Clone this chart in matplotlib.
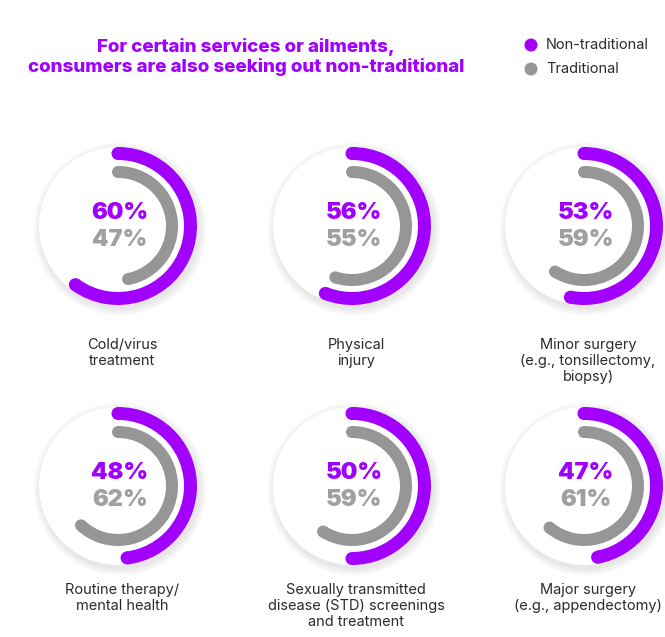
import numpy as np
import matplotlib
matplotlib.use('Agg')
from matplotlib import pyplot as plt
from matplotlib.patches import Wedge, Circle

# survey shares per service (percent)
categories = ['Cold/virus\ntreatment', 'Physical\ninjury',
              'Minor surgery\n(e.g., tonsillectomy,\nbiopsy)',
              'Routine therapy/\nmental health',
              'Sexually transmitted\ndisease (STD) screenings\nand treatment',
              'Major surgery\n(e.g., appendectomy)']
non_traditional = [60, 56, 53, 48, 50, 47]
traditional = [47, 55, 59, 62, 59, 61]

title = 'For certain services or ailments,\nconsumers are also seeking out non-traditional'
legend_labels = ['Non-traditional', 'Traditional']

PURPLE = '#a100ff'
GRAY = '#969696'
TEXT_GRAY = '#a0a0a0'

W, H = 665, 637
fig = plt.figure(figsize=(W / 100, H / 100), dpi=100)
ax = fig.add_axes([0, 0, 1, 1])
ax.set_xlim(0, W)
ax.set_ylim(H, 0)
ax.set_aspect('equal')
ax.axis('off')

# grid of donut centres in pixel space
xs = [118, 352, 584]
ys = [226, 486]
label_top = [338, 583]
R = 79
outer = (66, 79)
inner = (48, 60)


def arc(cx, cy, r0, r1, pct, color):
    # clockwise from 12 o'clock (y axis points down)
    span = 360 * pct / 100
    t1, t2 = -90, -90 + span
    ax.add_patch(Wedge((cx, cy), r1, t1, t2, width=r1 - r0, color=color, lw=0, zorder=3))
    rm = (r0 + r1) / 2
    for t in (t1, t2):
        a = np.deg2rad(t)
        ax.add_patch(Circle((cx + rm * np.cos(a), cy + rm * np.sin(a)), (r1 - r0) / 2,
                            color=color, lw=0, zorder=3))


for i, lab in enumerate(categories):
    cx = xs[i % 3]
    cy = ys[i // 3]
    # soft drop shadow
    for k in range(8):
        ax.add_patch(Circle((cx + 2, cy + 3), R + 1 + k, color='black', alpha=0.012, lw=0, zorder=1))
    ax.add_patch(Circle((cx, cy), R, color='white', lw=0, zorder=2))
    arc(cx, cy, outer[0], outer[1], non_traditional[i], PURPLE)
    arc(cx, cy, inner[0], inner[1], traditional[i], GRAY)
    ax.text(cx + 2, cy - 13, f'{non_traditional[i]}%', ha='center', va='center',
            fontsize=17, fontweight='black', color=PURPLE, family='Inter', zorder=4)
    ax.text(cx + 2, cy + 14, f'{traditional[i]}%', ha='center', va='center',
            fontsize=17, fontweight='black', color=TEXT_GRAY, family='Inter', zorder=4)
    ax.text(cx + 4, label_top[i // 3], lab, ha='center', va='top', fontsize=10.5,
            color='#2b2b2b', family='Inter', linespacing=1.2, zorder=4)

ax.text(246, 57, title, ha='center', va='center', fontsize=13.5, fontweight='heavy',
        color=PURPLE, family='Inter', linespacing=1.17)

for j, (lab, col) in enumerate(zip(legend_labels, [PURPLE, GRAY])):
    y = 45 + 24 * j
    ax.add_patch(Circle((531, y), 6.5, color=col, lw=0))
    ax.text(546, y, lab, ha='left', va='center', fontsize=10.5, color='#2b2b2b', family='Inter')

fig.savefig('out.png', dpi=100, facecolor='white')
